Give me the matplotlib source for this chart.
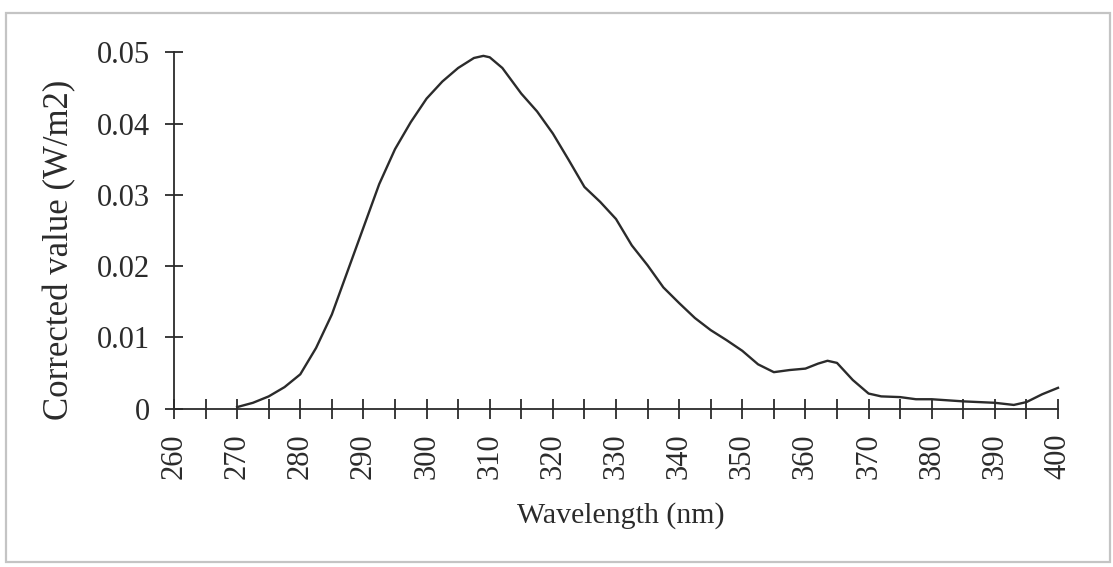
import matplotlib
matplotlib.use("Agg")
import matplotlib.pyplot as plt
from matplotlib.patches import Rectangle
from matplotlib.ticker import MultipleLocator, FixedLocator

# Spectral irradiance readings
wavelength_nm = [270, 272.5, 275, 277.5, 280, 282.5, 285, 287.5, 290, 292.5,
                 295, 297.5, 300, 302.5, 305, 307.5, 309, 310, 312, 315,
                 317.5, 320, 322.5, 325, 327.5, 330, 332.5, 335, 337.5, 340,
                 342.5, 345, 347.5, 350, 352.5, 355, 357.5, 360, 362, 363.5,
                 365, 367.5, 370, 372, 375, 377.5, 380, 385, 390, 393,
                 395, 397.5, 400]
corrected_w_m2 = [0.0002, 0.0008, 0.0017, 0.0030, 0.0048, 0.0085, 0.0132, 0.0193, 0.0254, 0.0315,
                  0.0364, 0.0402, 0.0435, 0.0459, 0.0478, 0.0492, 0.0495, 0.0493, 0.0478, 0.0442,
                  0.0417, 0.0386, 0.0349, 0.0311, 0.0290, 0.0266, 0.0229, 0.0201, 0.0170, 0.0148,
                  0.0127, 0.0110, 0.0096, 0.0081, 0.0062, 0.0051, 0.0054, 0.0056, 0.0063, 0.0067,
                  0.0064, 0.0040, 0.0021, 0.0017, 0.0016, 0.0013, 0.0013, 0.0010, 0.0008, 0.0005,
                  0.0009, 0.0020, 0.0029]

x_ticks = [260, 270, 280, 290, 300, 310, 320, 330, 340, 350, 360, 370, 380, 390, 400]
y_ticks = [0, 0.01, 0.02, 0.03, 0.04, 0.05]
y_tick_labels = ["0", "0.01", "0.02", "0.03", "0.04", "0.05"]

W, H = 1113, 567
plt.rcParams["font.family"] = ["Liberation Serif", "DejaVu Serif"]
ink = "#2b2b2b"

fig = plt.figure(figsize=(W / 100, H / 100), dpi=100)
fig.patch.set_facecolor("white")

# light frame around the whole chart
fig.patches.append(Rectangle((6 / W, 1 - 562 / H), (1110 - 6) / W, (562 - 13) / H,
                             transform=fig.transFigure, fill=False,
                             edgecolor="#c4c4c4", linewidth=1.6))

ax = fig.add_axes([174 / W, 1 - 408.5 / H, (1058 - 174) / W, (408.5 - 52.3) / H])
ax.plot(wavelength_nm, corrected_w_m2, color=ink, linewidth=1.7, clip_on=False,
        solid_joinstyle="round")

ax.set_xlim(260, 400)
ax.set_ylim(0, 0.05)
for s in ("top", "right"):
    ax.spines[s].set_visible(False)
for s in ("left", "bottom"):
    ax.spines[s].set_color(ink)
    ax.spines[s].set_linewidth(1.3)

ax.xaxis.set_major_locator(FixedLocator(x_ticks))
ax.xaxis.set_minor_locator(MultipleLocator(5))
ax.set_xticklabels([str(v) for v in x_ticks], rotation=90, fontsize=22, color=ink)
ax.tick_params(axis="x", which="both", direction="inout", length=14.5, width=1.3,
               color=ink, pad=11)

ax.set_yticks(y_ticks)
ax.set_yticklabels(y_tick_labels, fontsize=22, color=ink)
ax.tick_params(axis="y", direction="inout", length=13, width=1.3, color=ink, pad=11)

fig.text(621 / W, 1 - 516 / H, "Wavelength (nm)", ha="center", va="center",
         fontsize=21.5, color=ink)
fig.text(60 / W, 1 - 250 / H, "Corrected value (W/m2)", ha="center", va="center",
         rotation=90, fontsize=25, color=ink)

fig.savefig("out.png", dpi=100, facecolor="white")
